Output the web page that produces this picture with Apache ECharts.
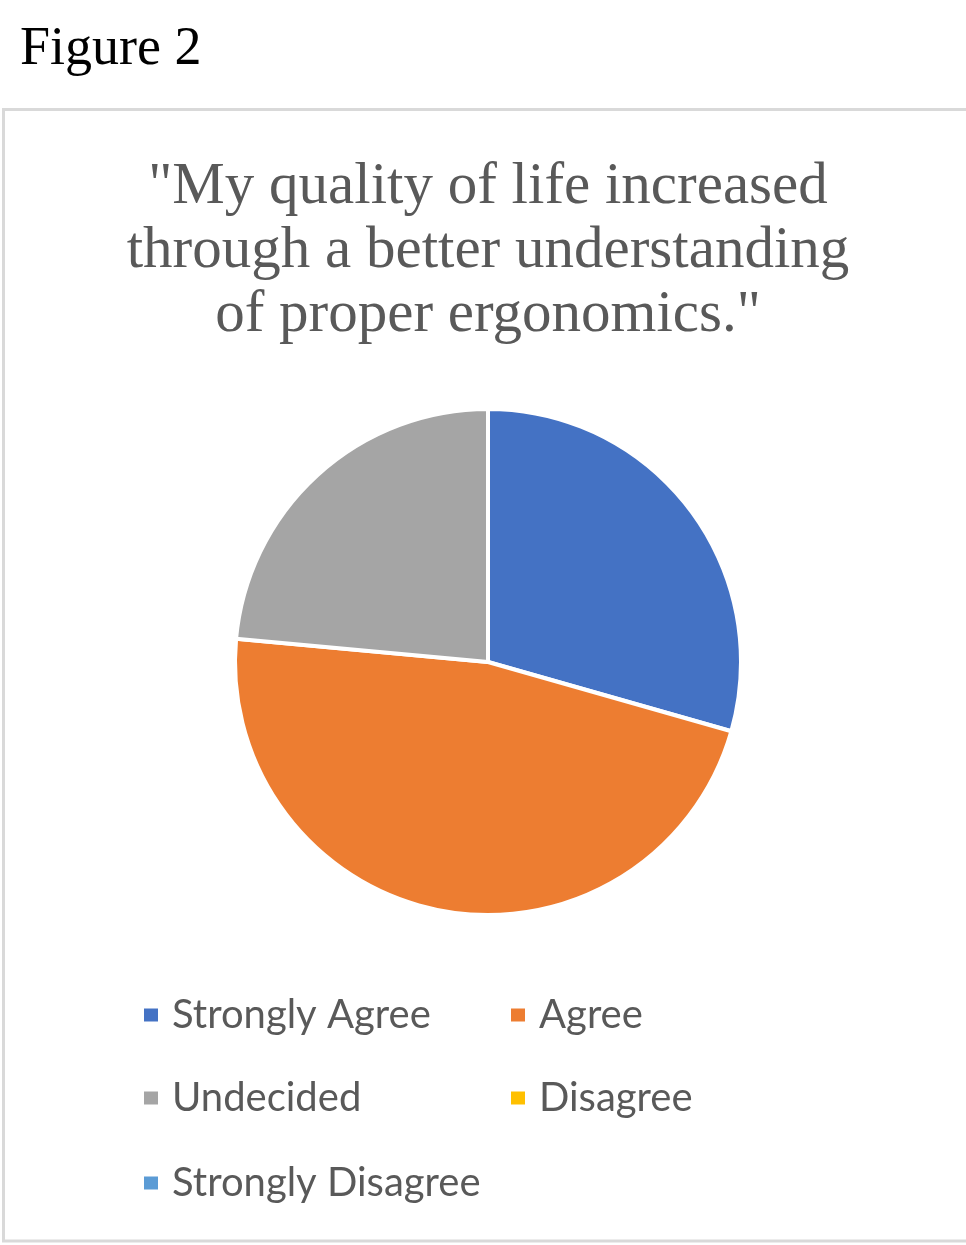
<!DOCTYPE html>
<html>
<head>
<meta charset="utf-8">
<script src="https://cdn.jsdelivr.net/npm/echarts@6/dist/echarts.min.js"></script>
<style>
html,body{margin:0;padding:0;background:#fff;}
#chart{width:966px;height:1245px;}
</style>
</head>
<body>
<div id="chart"></div>
<script>
const figureLabel = 'Figure 2';
const chartTitle = '"My quality of life increased\nthrough a better understanding\nof proper ergonomics."';
const categories = ['Strongly Agree', 'Agree', 'Undecided', 'Disagree', 'Strongly Disagree'];
const responses = [5, 8, 4, 0, 0];
const sliceColors = ['#4472C4', '#ED7D31', '#A5A5A5', '#FFC000', '#5B9BD5'];

const legendSlots = [
  { left: 142, top: 993 },
  { left: 509, top: 993 },
  { left: 142, top: 1076 },
  { left: 509, top: 1076 },
  { left: 142, top: 1161 }
];

const chart = echarts.init(document.getElementById('chart'), null, { renderer: 'canvas' });

const legends = categories.map((name, i) => ({
  data: [name],
  left: legendSlots[i].left,
  top: legendSlots[i].top,
  padding: 0,
  icon: 'rect',
  itemWidth: 16,
  itemHeight: 15,
  selectedMode: false,
  textStyle: {
    fontFamily: 'Lato',
    fontSize: 40,
    lineHeight: 44,
    color: '#595959',
    padding: [0, 0, 0, 8]
  }
}));

chart.setOption({
  animation: false,
  color: sliceColors,
  graphic: [
    {
      type: 'rect',
      shape: { x: 3.5, y: 109.5, width: 1000, height: 1131.5 },
      style: { fill: 'none', stroke: '#d9d9d9', lineWidth: 3 },
      silent: true
    }
  ],
  title: [
    {
      text: figureLabel,
      left: 20,
      top: 20,
      padding: 0,
      textStyle: {
        fontFamily: '"Liberation Serif", "Times New Roman", serif',
        fontSize: 54,
        lineHeight: 60,
        fontWeight: 'normal',
        color: '#000000'
      }
    },
    {
      text: chartTitle,
      left: 488,
      top: 155,
      padding: 0,
      textAlign: 'center',
      textStyle: {
        fontFamily: '"Liberation Serif", "Times New Roman", serif',
        fontSize: 59,
        lineHeight: 64,
        fontWeight: 'normal',
        color: '#595959'
      }
    }
  ],
  legend: legends,
  series: [
    {
      type: 'pie',
      center: [488, 662],
      radius: 253,
      startAngle: 90,
      clockwise: true,
      avoidLabelOverlap: false,
      label: { show: false },
      labelLine: { show: false },
      emphasis: { disabled: true },
      itemStyle: { borderColor: '#ffffff', borderWidth: 4 },
      data: categories.map((name, i) => ({ name: name, value: responses[i] }))
    }
  ]
});
</script>
</body>
</html>
